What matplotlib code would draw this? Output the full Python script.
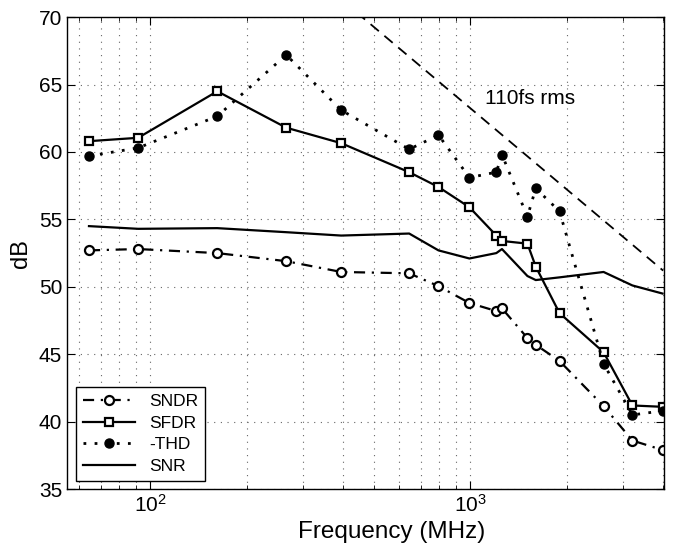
import numpy as np
import matplotlib
matplotlib.use("Agg")
import matplotlib.pyplot as plt
from matplotlib.ticker import LogLocator, NullFormatter

plt.rcParams["font.family"] = ["Liberation Sans", "DejaVu Sans"]
plt.rcParams["mathtext.fontset"] = "custom"
plt.rcParams["mathtext.rm"] = "Liberation Sans"

# input frequency (MHz)
freq = [64.4, 91.7, 162, 266, 395, 644, 795, 993, 1205, 1255, 1507, 1600, 1898, 2606, 3206, 3981]

sndr = [52.7, 52.8, 52.5, 51.9, 51.1, 51.0, 50.05, 48.8, 48.2, 48.4, 46.2, 45.7, 44.5, 41.15, 38.6, 37.9]
sfdr = [60.8, 61.05, 64.5, 61.8, 60.65, 58.5, 57.4, 55.9, 53.8, 53.4, 53.2, 51.5, 48.05, 45.15, 41.2, 41.1]
thd = [59.7, 60.3, 62.65, 67.2, 63.1, 60.2, 61.25, 58.1, 58.5, 59.8, 55.2, 57.3, 55.6, 44.3, 40.5, 40.8]
snr = [54.5, 54.3, 54.35, 54.05, 53.8, 53.95, 52.7, 52.1, 52.5, 52.8, 50.8, 50.5, 50.7, 51.1, 50.1, 49.5]

# 110 fs rms jitter limit, end points
jitter_freq = [400, 4000]
jitter_db = [71.2, 51.2]

fig = plt.figure(figsize=(6.75, 5.52), dpi=100)
ax = fig.add_axes([0.0993, 0.114, 0.8837, 0.855])

ax.plot(freq, sndr, color="black", linestyle=(0, (5, 3, 1, 3)), linewidth=1.6, marker="o",
        markersize=6.5, markerfacecolor="white", markeredgewidth=1.6, label="SNDR")
ax.plot(freq, sfdr, color="black", linestyle="-", linewidth=1.6, marker="s",
        markersize=6, markerfacecolor="white", markeredgewidth=1.6, label="SFDR")
ax.plot(freq, thd, color="black", linestyle=(0, (1, 3)), linewidth=2.0, marker="o",
        markersize=6.5, markerfacecolor="black", label="-THD")
ax.plot(freq, snr, color="black", linestyle="-", linewidth=1.6, label="SNR")
ax.plot(jitter_freq, jitter_db, color="black", linestyle=(0, (6, 4)), linewidth=1.3)

ax.text(1114, 64.0, "110fs rms", fontsize=15, va="center", ha="left")

ax.set_xscale("log")
ax.set_xlim(55, 4010)
ax.set_ylim(35, 70)
ax.set_yticks([35, 40, 45, 50, 55, 60, 65, 70])
ax.xaxis.set_minor_locator(LogLocator(base=10, subs=np.arange(2, 10)))
ax.xaxis.set_minor_formatter(NullFormatter())

grid_style = dict(color="0.4", linestyle=(0, (1, 5)), linewidth=0.8)
ax.grid(True, which="both", axis="x", **grid_style)
ax.grid(True, which="major", axis="y", **grid_style)

ax.tick_params(which="both", direction="in", top=True, right=True, labelsize=15)
ax.tick_params(which="major", length=6)
ax.tick_params(which="minor", length=3)
for s in ax.spines.values():
    s.set_linewidth(1.0)

ax.set_xlabel("Frequency (MHz)", fontsize=17.5)
ax.xaxis.set_label_coords(0.544, -0.068)
ax.set_ylabel("dB", fontsize=17, labelpad=5)

leg = ax.legend(loc="lower left", bbox_to_anchor=(0.015, 0.017), borderaxespad=0,
                fontsize=12.5, numpoints=1, handlelength=3.0, fancybox=False,
                framealpha=1, edgecolor="black", labelspacing=0.38)
leg.get_frame().set_linewidth(1.0)

fig.savefig("out.png", dpi=100)
